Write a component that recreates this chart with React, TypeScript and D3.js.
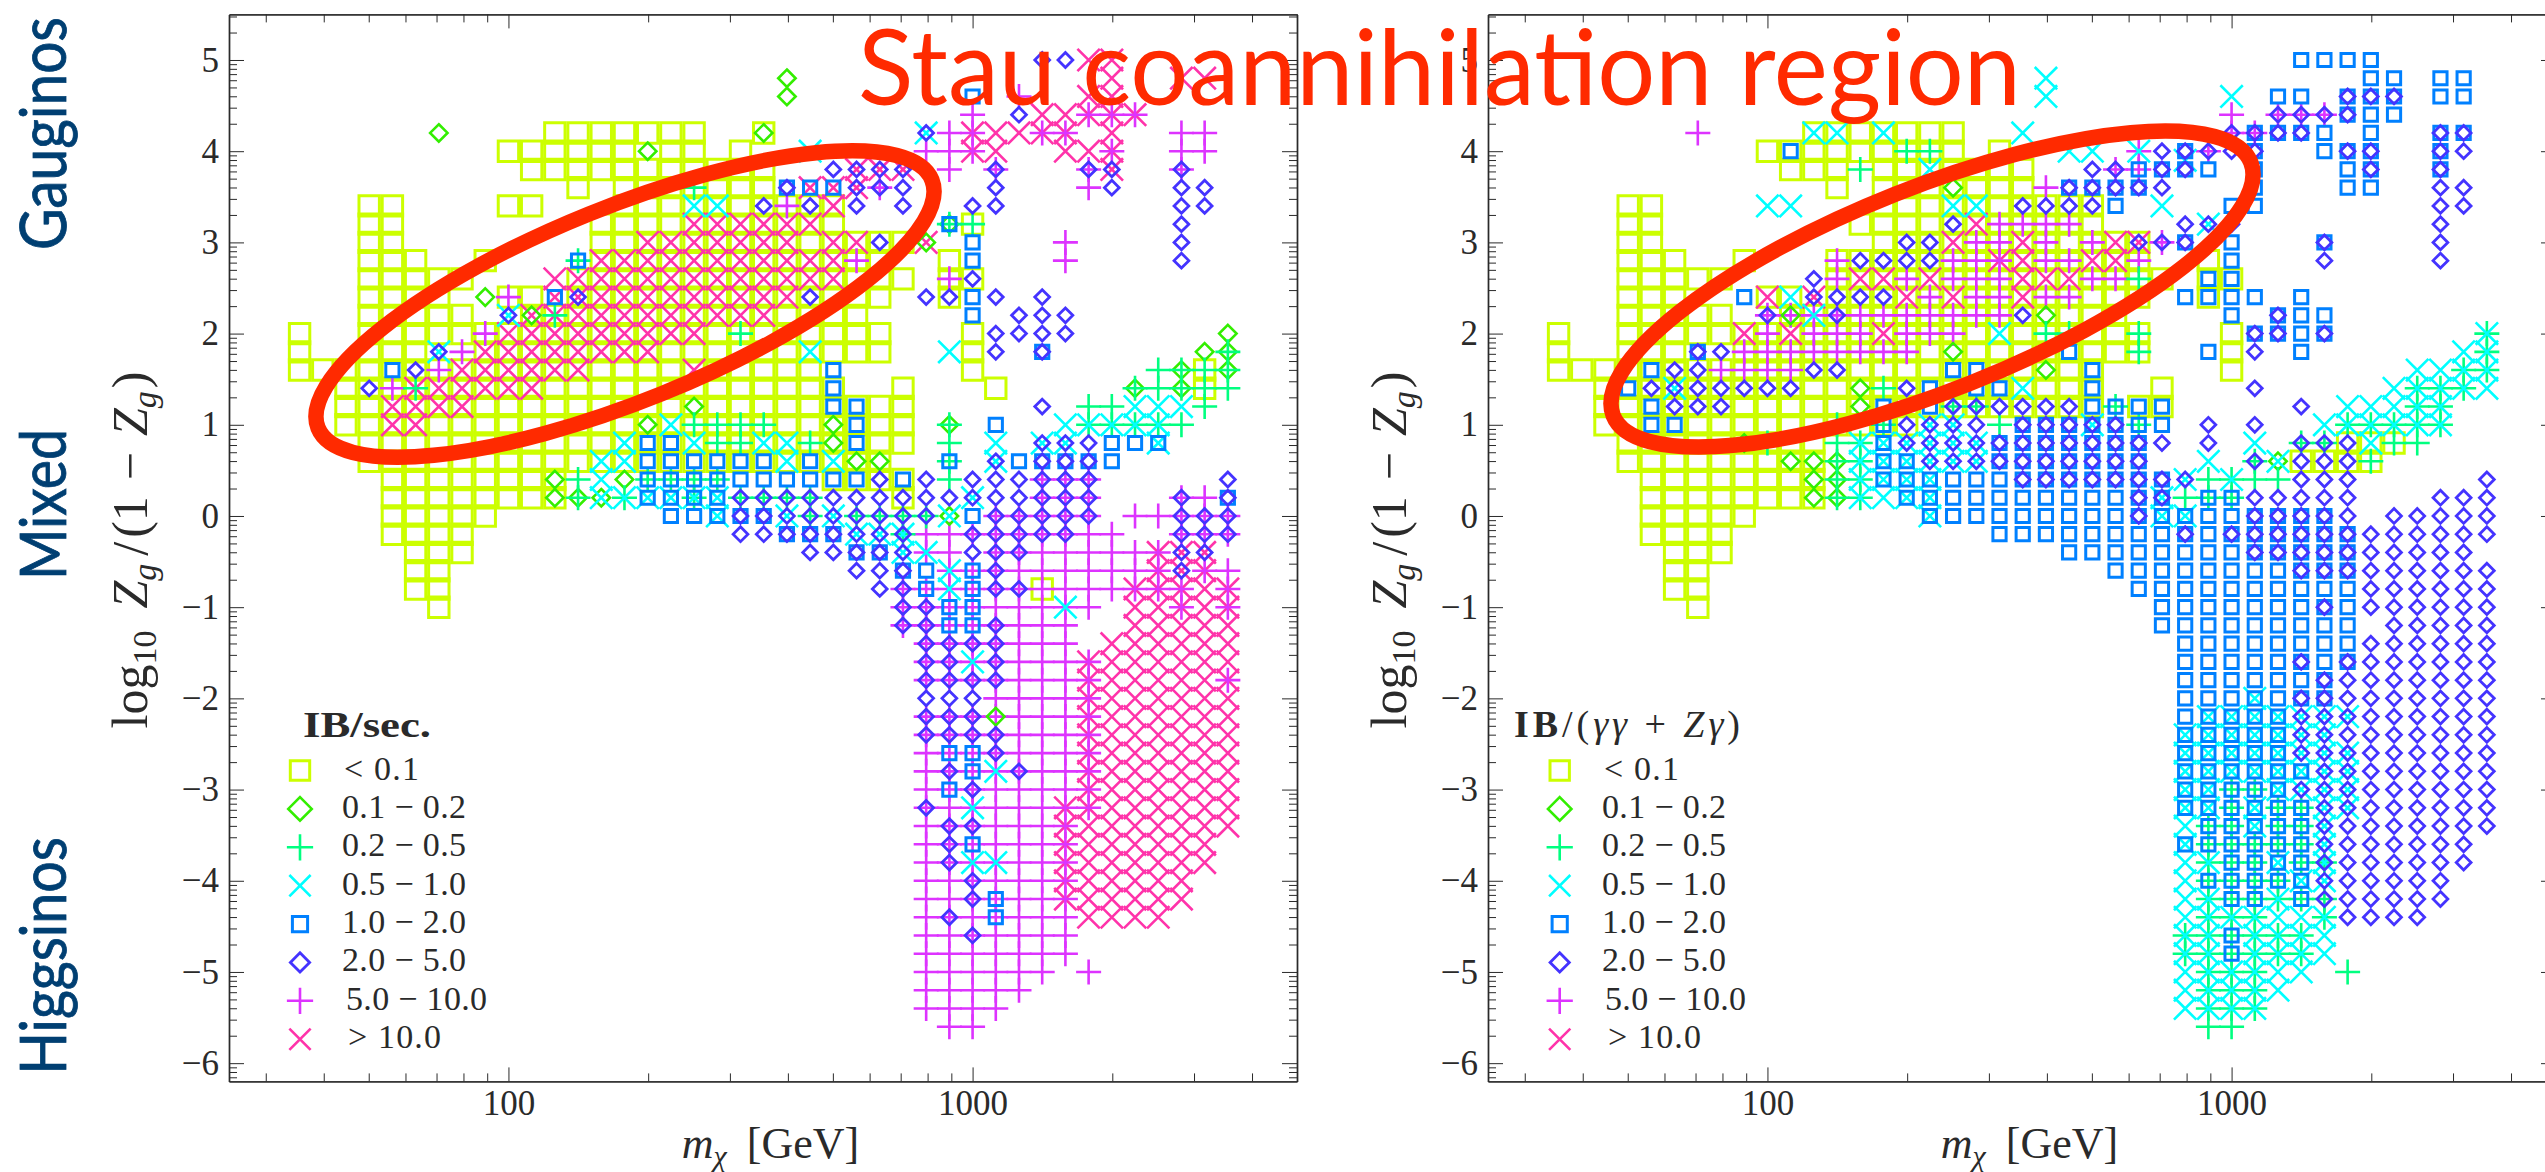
import React, { useEffect, useRef } from 'react'
import * as d3 from 'd3'

// m = 10^(bin / 20) GeV, each row is [log10 Zg/(1-Zg), "mass bins"]
type Row = [number, string]

const bandLabels = ['< 0.1', '0.1 − 0.2', '0.2 − 0.5', '0.5 − 1.0', '1.0 − 2.0', '2.0 − 5.0', '5.0 − 10.0', '> 10.0']
const bandLabelWidths = [75, 124, 124, 124, 124, 124, 141, 93]
const bandColors = ['#ccff00', '#33ee00', '#00ff80', '#00ffff', '#0080ff', '#4433ff', '#dd33ff', '#ff33aa']
const bandShapes = ['square', 'diamond', 'plus', 'times', 'smallSquare', 'smallDiamond', 'plus', 'times']
const bandStrokes = [3, 2.6, 2.6, 2.6, 3, 2.8, 2.6, 2.6]
const legendScales = [0.95, 1.35, 1.05, 0.95, 1.15, 1.3, 1.05, 0.95]
const drawOrder = [0, 7, 6, 1, 2, 3, 4, 5]

const majorMass = [100, 1000]
const minorMass = [30, 40, 50, 60, 70, 80, 90, 200, 300, 400, 500, 600, 700, 800, 900, 2000, 3000, 4000, 5000]
const majorLog = [-6, -5, -4, -3, -2, -1, 0, 1, 2, 3, 4, 5]

const leftYellow: Row[] = [
  [4.2, '42-48 51'], [4.0, '40-45 47 48 50'], [3.8, '41-51'], [3.6, '43 45-51'], [3.4, '34 35 40 41 45-54'],
  [3.2, '34 35 44-54 60'], [3.0, '34 35 44-57'], [2.8, '34-36 39 44-56 59'], [2.6, '34-38 43-57 59 60'],
  [2.4, '34-37 40 41 43-56 59'], [2.2, '34-38 41-55'], [2.0, '31 34-56 60'], [1.8, '31 34-36 39-56 60'],
  [1.6, '31-53 60 70'], [1.4, '33-54 57 61 70'], [1.2, '33-57'], [1.0, '33-57'], [0.8, '34-57'], [0.6, '34-56'],
  [0.4, '35-42 54-57'], [0.2, '35-42 57'], [0, '35-39'], [-0.2, '35-38'], [-0.4, '36-38'], [-0.6, '36 37'],
  [-0.8, '36 37 63'], [-1.0, '37'],
]
const leftGreen: Row[] = [
  [4.8, '52'], [4.6, '52'], [4.2, '37 51'], [4.0, '46'], [3.2, '59'], [3.0, '58'], [2.4, '39'], [2.2, '41'],
  [2.0, '71'], [1.8, '70 71'], [1.6, '69 71'], [1.4, '67 69'], [1.2, '48'], [1.0, '46 54 59'], [0.8, '54'],
  [0.6, '55 56'], [0.4, '42 45'], [0.2, '42 43 44'], [0, '59'], [-2.2, '61'],
]
const leftSpring: Row[] = [
  [3.6, '48'], [3.2, '59 60'], [2.8, '43'], [2.2, '42'], [2.0, '50'], [1.8, '71'], [1.6, '68-71'], [1.4, '36 67-71'],
  [1.2, '65 66 70'], [1.0, '48-51 59 65-69'], [0.8, '49 50 53 59'], [0.6, '59'], [0.4, '43 46-49 59'],
  [0.2, '43 45 48 50-53'], [0, '53 55-58'], [-0.2, '57'],
]
const leftCyan: Row[] = [
  [4.2, '58'], [4.0, '53'], [3.4, '48 49'], [2.2, '40'], [1.8, '37 53 59'], [1.2, '67-69'], [1.0, '47 64-68'],
  [0.8, '45 48 51 52 61 63 64 68'], [0.6, '44 45 52 54 61'], [0.4, '44'], [0.2, '44-49 60'], [0, '49 52 54 59'],
  [-0.2, '55-57'], [-0.4, '57 58'], [-0.6, '59'], [-0.8, '59'], [-1.0, '64'], [-1.6, '60'], [-2.8, '61'],
  [-3.2, '60'], [-3.8, '60 61'],
]
const leftBlue: Row[] = [
  [4.6, '60'], [3.6, '52-54'], [3.2, '59'], [3.0, '60'], [2.8, '43 60'], [2.4, '42 60'], [2.2, '60'], [1.8, '63'],
  [1.6, '35 54'], [1.4, '54'], [1.2, '54 55'], [1.0, '55 61'], [0.8, '46 47 55 66-68'],
  [0.6, '46-51 53 59 62-66'], [0.4, '46-55 57'], [0.2, '46-49 71'], [0, '47-51 60'], [-0.2, '52-54'],
  [-0.4, '55 56'], [-0.6, '57 58 60'], [-0.8, '58 60'], [-1.0, '59 60'], [-1.2, '59 60'], [-2.6, '59 60'],
  [-2.8, '60'], [-3.0, '59'], [-3.6, '60'], [-4.2, '61'], [-4.4, '61'],
]
const leftIndigo: Row[] = [
  [5.0, '63 64'], [4.4, '62'], [4.2, '58'], [3.8, '54-57 61 65 66 69'], [3.6, '52 55-57 61 66 69 70'],
  [3.4, '51 53 55 57 60 61 69 70'], [3.2, '69'], [3.0, '56 69'], [2.8, '69'], [2.6, '60'],
  [2.4, '43 53 58 59 61 63'], [2.2, '40 62 63 64'], [2.0, '61-64'], [1.8, '37 61 63'], [1.6, '36'], [1.4, '34'],
  [1.2, '63'], [0.8, '63 64 65'], [0.6, '61 63 64 65'], [0.4, '56 58 60-65 71'], [0.2, '50-65 69 71'],
  [0, '50-58 61-65 69 70 71'], [-0.2, '50-57 60-64 69 70 71'], [-0.4, '53-57 60 61 62 69 70'],
  [-0.6, '55 56 57 61 69'], [-0.8, '56 57 61 62'], [-1.0, '57 58'], [-1.2, '57 58 61'], [-1.4, '58-61'],
  [-1.6, '58 59 61'], [-1.8, '58-61'], [-2.0, '58 59 60'], [-2.2, '58 59 60'], [-2.4, '58-61'], [-2.6, '61'],
  [-2.8, '59 62'], [-3.0, '60'], [-3.2, '58'], [-3.4, '59 60'], [-3.6, '59'], [-3.8, '59'], [-4.0, '60'],
  [-4.2, '60'], [-4.4, '59'], [-4.6, '60'],
]
const leftMagenta: Row[] = [
  [4.6, '62'], [4.4, '60 65 66 67'], [4.2, '59 60 63 64 69 70'], [4.0, '58 59 60 66 69 70'], [3.8, '59 61 65 69'],
  [3.6, '56 65'], [3.4, '52'], [3.0, '64'], [2.8, '55 64'], [2.6, '59'], [2.4, '40'], [2.0, '39'], [1.8, '38'],
  [1.6, '37'], [1.4, '35'], [0.4, '63 64 65'], [0.2, '63 64 65 69 70'], [0, '61-65 67-71'], [-0.2, '58-66 69 70 71'],
  [-0.4, '58 59 61-68'], [-0.6, '59-68 70 71'], [-0.8, '57-69 71'], [-1.0, '57-65 69 71'], [-1.2, '57-64'],
  [-1.4, '58-64'], [-1.6, '58-65'], [-1.8, '58-65 71'], [-2.0, '61-65'], [-2.2, '58-65'], [-2.4, '58-65'],
  [-2.6, '58-65'], [-2.8, '58-65'], [-3.0, '58-65'], [-3.2, '58-65'], [-3.4, '58-64'], [-3.6, '58-64'],
  [-3.8, '58-64'], [-4.0, '58-64'], [-4.2, '58-64'], [-4.4, '58-64'], [-4.6, '58-64'], [-4.8, '58-64'],
  [-5.0, '58-63 65'], [-5.2, '58-62'], [-5.4, '58-61'], [-5.6, '59 60'],
]
const leftPink: Row[] = [
  [5.0, '65 66'], [4.8, '66 69 70'], [4.6, '65 66'], [4.4, '63-67'], [4.2, '60-64 66'], [4.0, '60 61 64 65 66'],
  [3.8, '55 56 57 66'], [3.6, '53 54 55'], [3.4, '54'], [3.2, '48-53'], [3.0, '46-52 54 55 58'], [2.8, '44-54'],
  [2.6, '42-54'], [2.4, '42-52'], [2.2, '41-51'], [2.0, '40-48'], [1.8, '39-46'], [1.6, '38-43 48'],
  [1.4, '36-41'], [1.2, '35-38'], [1.0, '35 36'], [-0.4, '68 69 70'], [-0.6, '68 69 70'], [-0.8, '67-71'],
  [-1.0, '67-71'], [-1.2, '67-71'], [-1.4, '66-71'], [-1.6, '65-71'], [-1.8, '65-71'], [-2.0, '65-71'],
  [-2.2, '65-71'], [-2.4, '65-71'], [-2.6, '65-71'], [-2.8, '65-71'], [-3.0, '65-71'], [-3.2, '64-71'],
  [-3.4, '64-71'], [-3.6, '64-70'], [-3.8, '64-70'], [-4.0, '64-69'], [-4.2, '64-69'], [-4.4, '65-68'],
]

const rightYellow: Row[] = [
  [4.2, '42-48'], [4.0, '40-48 50'], [3.8, '41-43 45-51'], [3.6, '43 45-51'], [3.4, '34 35 45-54'],
  [3.2, '34 35 44-54'], [3.0, '34 35 45-56'], [2.8, '34 35 36 39 43-56 59'], [2.6, '34-38 43-57 59 60'],
  [2.4, '34-36 40 41 43-56 59'], [2.2, '34-38 41-55'], [2.0, '31 34-56 60'], [1.8, '31 34-36 39-56 60'],
  [1.6, '31-54 60'], [1.4, '33-54 57'], [1.2, '33-54 56 57'], [1.0, '33-46'], [0.8, '34-42 65 66 67'],
  [0.6, '34-42 63 64 65 66'], [0.4, '35-42'], [0.2, '35-42'], [0, '35-39'], [-0.2, '35-38'], [-0.4, '36-38'],
  [-0.6, '36 37'], [-0.8, '36 37'], [-1.0, '37'],
]
const rightGreen: Row[] = [
  [3.6, '48'], [2.2, '41 52'], [1.8, '48'], [1.6, '52'], [1.4, '44'], [1.2, '44'], [0.8, '39'],
  [0.6, '41 42 43 62'], [0.4, '42 43'], [0.2, '42 43'],
]
const rightSpring: Row[] = [
  [4.0, '46 47'], [3.8, '44'], [2.6, '56'], [2.0, '52 53 56 71'], [1.8, '56 71'], [1.6, '70 71'], [1.4, '45 68 69 70'],
  [1.2, '48 49 55 68 69'], [1.0, '43 45 50 56 65-69'], [0.8, '40 43 44 63 64 67 68'], [0.6, '43 44 61 66'],
  [0.4, '43 44 59-62'], [0.2, '43 44 58 59 60'], [-3.0, '60 61'], [-3.2, '60 62 63'], [-3.4, '59 60 62 63'],
  [-3.6, '59-63'], [-3.8, '59 60 61 63 64'], [-4.0, '59-62'], [-4.2, '59-64'], [-4.4, '59 60 61 64'],
  [-4.6, '58-63'], [-4.8, '58-63'], [-5.0, '59 60 61 65'], [-5.2, '59 60 61'], [-5.4, '59 60 61'], [-5.6, '59 60'],
]
const rightCyan: Row[] = [
  [4.8, '52'], [4.6, '52 60'], [4.2, '42 43 45 51'], [4.0, '53 54 56'], [3.9, '58'], [3.8, '47'],
  [3.4, '40 41 48 49 57'], [3.2, '59'], [2.4, '41'], [2.2, '42'], [2.0, '50 71'], [1.8, '70 71'],
  [1.6, '68-71'], [1.4, '36 51 67-71'], [1.2, '65-69'], [1.0, '47 48 54 64-69'], [0.8, '44-49 61 66'],
  [0.6, '44-49 59 62'], [0.4, '44 45 46 47 58 60'], [0.2, '44-47 57'], [0, '47 57 58'], [-2.0, '61'],
  [-2.2, '59-65'], [-2.4, '58-64'], [-2.6, '58-65'], [-2.8, '58-65'], [-3.0, '58 59 62-65'], [-3.2, '58 59 61 64 65'],
  [-3.4, '58 61 64'], [-3.6, '58 64'], [-3.8, '58 59 62 64'], [-4.0, '58 63 64'], [-4.2, '58 59 62'],
  [-4.4, '58-64'], [-4.6, '58 59 61-64'], [-4.8, '58 59 61-64'], [-5.0, '58-63'], [-5.2, '58-62'], [-5.4, '58-61'],
]
const rightBlue: Row[] = [
  [5.0, '63-66'], [4.8, '66 67 69 70'], [4.6, '62 63 65 66 67 69 70'], [4.4, '65 66 67'],
  [4.2, '61-64 66 69 70'], [4.0, '41 58 61 64 65 66 69'], [3.8, '56-59 61 65 66 69'], [3.6, '53-56 61 65 66'],
  [3.4, '55 60 61'], [3.0, '58 60 64'], [2.8, '60'], [2.6, '59 60'], [2.4, '39 58-61 63'], [2.2, '60 62 63 64'],
  [2.0, '61-64'], [1.8, '37 53 59 63'], [1.6, '35 48 49 54'], [1.4, '34 47 49 50 54'], [1.2, '35 45 47 54-57'],
  [1.0, '35 36 45 51-57'], [0.8, '45 50-56'], [0.6, '45 46 50-56'], [0.4, '45-57'], [0.2, '46-57 59 60'],
  [0, '47-64'], [-0.2, '50-65'], [-0.4, '53-65'], [-0.6, '55-65'], [-0.8, '56-65'], [-1.0, '57-65'], [-1.2, '57-65'],
  [-1.4, '58-65'], [-1.6, '58-65'], [-1.8, '58-64'], [-2.0, '58-64'], [-2.2, '58-62'], [-2.4, '58-62'],
  [-2.6, '58-62'], [-2.8, '58-63'], [-3.0, '58-62'], [-3.2, '58-63'], [-3.4, '59-63'], [-3.6, '58-63'],
  [-3.8, '60-63'], [-4.0, '59-63'], [-4.2, '60 61 63'], [-4.6, '60'], [-4.8, '60'],
]
const rightIndigo: Row[] = [
  [4.6, '65 66 67'], [4.4, '62-65'], [4.2, '60-63 69 70'], [4.0, '57-61 65 66 69 70'], [3.8, '54 55 57 58 66 69'],
  [3.6, '53-57 69 70'], [3.4, '51-54 69 70'], [3.2, '48 58 59 60 69'], [3.0, '46 47 56 57 58 64 69'],
  [2.8, '44-47 64 69'], [2.6, '42'], [2.4, '42-45'], [2.2, '40 43 51 62'], [2.0, '61 62 64'], [1.8, '37 38 61'],
  [1.6, '36 37 42 43'], [1.4, '35-41 46 61'], [1.2, '36 37 38 48-53 63'], [1.0, '46-49 51-55 59 61'],
  [0.8, '46-57 59 63 64 65'], [0.6, '47-56 61 63 64 65'], [0.4, '51-58 63 64 65 71'],
  [0.2, '56 57 61-65 69 70 71'], [0, '56 61-65 67-71'], [-0.2, '58 60-71'], [-0.4, '61-70'], [-0.6, '63-71'],
  [-0.8, '66-71'], [-1.0, '64 66-71'], [-1.2, '67-71'], [-1.4, '66-71'], [-1.6, '63 65-71'], [-1.8, '64-71'],
  [-2.0, '63-71'], [-2.2, '63-71'], [-2.4, '63-71'], [-2.6, '63-71'], [-2.8, '64-71'], [-3.0, '63-71'],
  [-3.2, '64-71'], [-3.4, '64-71'], [-3.6, '64-70'], [-3.8, '64-70'], [-4.0, '64-69'], [-4.2, '64-69'], [-4.4, '65-68'],
]
const rightMagenta: Row[] = [
  [4.4, '60 62 63 64'], [4.2, '37 60 61'], [4.0, '56 59'], [3.8, '55 56'], [3.6, '52'],
  [3.2, '50-53'], [3.0, '49 50 52 54 57'], [2.8, '43 48 49 50 52 53 56'], [2.6, '43 46 48 49 50 54 55'],
  [2.4, '47 49 50 52 53'], [2.2, '40-50'], [2.0, '40 42 43 44 46 47 48'], [1.8, '39-46'], [1.6, '38-41'],
]
const rightPink: Row[] = [
  [3.2, '49'], [3.0, '48 51 55 56'], [2.8, '50 51 54 55'], [2.6, '44 45 47 51 52 53'], [2.4, '40 42 46 48 51'],
  [2.0, '39 41 45'],
]

const leftSeries = [leftYellow, leftGreen, leftSpring, leftCyan, leftBlue, leftIndigo, leftMagenta, leftPink]
const rightSeries = [rightYellow, rightGreen, rightSpring, rightCyan, rightBlue, rightIndigo, rightMagenta, rightPink]

const massOfBin = (bin: number) => Math.pow(10, bin / 20)

const parseBins = (s: string) =>
  s.split(' ').flatMap((tok) => {
    const [a, b] = tok.split('-').map(Number)
    return b === undefined ? [a] : d3.range(a, b + 1)
  })

const expandRows = (rows: Row[]) =>
  rows.flatMap(([logz, bins]) => parseBins(bins).map((bin) => ({ mass: massOfBin(bin), logz })))

function markerPath(shape: string) {
  const p = d3.path()
  const poly = (pts: number[][]) => {
    pts.forEach(([x, y], i) => (i ? p.lineTo(x, y) : p.moveTo(x, y)))
    p.closePath()
  }
  if (shape === 'square') p.rect(-10.2, -10.2, 20.4, 20.4)
  if (shape === 'smallSquare') p.rect(-6.6, -6.6, 13.2, 13.2)
  if (shape === 'diamond') poly([[0, -8.7], [8.7, 0], [0, 8.7], [-8.7, 0]])
  if (shape === 'smallDiamond') poly([[0, -7.4], [7.4, 0], [0, 7.4], [-7.4, 0]])
  if (shape === 'plus') {
    p.moveTo(-12.5, 0); p.lineTo(12.5, 0)
    p.moveTo(0, -12.5); p.lineTo(0, 12.5)
  }
  if (shape === 'times') {
    p.moveTo(-11.2, -11.2); p.lineTo(11.2, 11.2)
    p.moveTo(-11.2, 11.2); p.lineTo(11.2, -11.2)
  }
  return p.toString()
}

const SERIF = '"Liberation Serif", serif'
const INK = '#2a2a2a'

function drawPanel(svg: any, left: number, right: number, series: Row[][]) {
  const top = 14.4
  const bottom = 1081.4
  const x = d3.scaleLog().domain([25, 5000]).range([left, right])
  const y = d3.scaleLinear().domain([-6.2, 5.5]).range([bottom, top])

  const g = svg.append('g')

  drawOrder.forEach((i) => {
    g.append('g')
      .selectAll('path')
      .data(expandRows(series[i]))
      .join('path')
      .attr('d', markerPath(bandShapes[i]))
      .attr('transform', (d: any) => `translate(${x(d.mass)},${y(d.logz)})`)
      .attr('fill', 'none')
      .attr('stroke', bandColors[i])
      .attr('stroke-width', bandStrokes[i])
  })

  const minorLog = d3.range(-7, 6).flatMap((n) => d3.range(2, 10).map((k) => n + Math.log10(k)))
    .filter((v) => v > -6.2 && v < 5.5)

  const styleAxis = (sel: any) => {
    sel.selectAll('.tick line').attr('stroke', INK).attr('stroke-width', 1)
    sel.selectAll('path.domain').attr('stroke', INK).attr('stroke-width', 1.4)
    sel.selectAll('text').attr('font-family', SERIF).attr('font-size', 35).attr('fill', INK)
  }
  const addAxis = (axis: any, tx: number, ty: number) =>
    g.append('g').attr('transform', `translate(${tx},${ty})`).call(axis).call(styleAxis)

  const massFmt = (d: any) => String(d)
  const logFmt = (d: any) => (d < 0 ? '−' + -d : String(d))

  addAxis(d3.axisBottom(x).tickValues(majorMass).tickFormat(massFmt).tickSize(-14).tickSizeOuter(0).tickPadding(9), 0, bottom)
  addAxis(d3.axisBottom(x).tickValues(minorMass).tickFormat(() => '').tickSize(-8).tickSizeOuter(0), 0, bottom)
  addAxis(d3.axisTop(x).tickValues(majorMass).tickFormat(() => '').tickSize(-14).tickSizeOuter(0), 0, top)
  addAxis(d3.axisTop(x).tickValues(minorMass).tickFormat(() => '').tickSize(-8).tickSizeOuter(0), 0, top)
  addAxis(d3.axisLeft(y).tickValues(majorLog).tickFormat(logFmt).tickSize(-15).tickSizeOuter(0).tickPadding(10), left, 0)
  addAxis(d3.axisLeft(y).tickValues(minorLog).tickFormat(() => '').tickSize(-8).tickSizeOuter(0), left, 0)
  addAxis(d3.axisRight(y).tickValues(majorLog).tickFormat(() => '').tickSize(-15).tickSizeOuter(0), right, 0)
  addAxis(d3.axisRight(y).tickValues(minorLog).tickFormat(() => '').tickSize(-8).tickSizeOuter(0), right, 0)

  // y label
  const yLabel = g.append('text')
    .attr('transform', `translate(${left - 82},550) rotate(-90)`)
    .attr('text-anchor', 'middle')
    .attr('font-family', SERIF)
    .attr('font-size', 50)
    .attr('fill', INK)
  yLabel.append('tspan').text('log')
  yLabel.append('tspan').attr('font-size', 34).attr('dy', 9).text('10')
  yLabel.append('tspan').attr('dy', -9).attr('dx', 22).attr('font-style', 'italic').text('Z')
  yLabel.append('tspan').attr('font-size', 34).attr('dy', 9).attr('font-style', 'italic').text('g')
  yLabel.append('tspan').attr('dy', -9).attr('dx', 8).text('/')
  yLabel.append('tspan').attr('dx', 4).text('(1')
  yLabel.append('tspan').attr('dx', 16).text('−')
  yLabel.append('tspan').attr('dx', 16).attr('font-style', 'italic').text('Z')
  yLabel.append('tspan').attr('font-size', 34).attr('dy', 9).attr('font-style', 'italic').text('g')
  yLabel.append('tspan').attr('dy', -9).attr('dx', 3).text(')')

  // x label
  const xLabel = g.append('text')
    .attr('x', x(100) + 262)
    .attr('y', 1158)
    .attr('text-anchor', 'middle')
    .attr('font-family', SERIF)
    .attr('font-size', 44)
    .attr('fill', INK)
  xLabel.append('tspan').attr('font-style', 'italic').text('m')
  xLabel.append('tspan').attr('font-size', 30).attr('dy', 8).attr('font-style', 'italic').text('χ')
  xLabel.append('tspan').attr('dy', -8).attr('dx', 20).text('[GeV]')
}

function drawLegend(svg: any, markerX: number, textStarts: number[]) {
  const legendY = d3.scaleLinear().domain([0, 7]).range([770.5, 1039.2])
  const g = svg.append('g')
  bandLabels.forEach((label, i) => {
    g.append('path')
      .attr('d', markerPath(bandShapes[i]))
      .attr('transform', `translate(${markerX},${legendY(i)}) scale(${legendScales[i]})`)
      .attr('fill', 'none')
      .attr('stroke', bandColors[i])
      .attr('stroke-width', bandStrokes[i])
      .attr('vector-effect', 'non-scaling-stroke')
    g.append('text')
      .attr('x', textStarts[i])
      .attr('y', legendY(i) + 9)
      .attr('font-family', SERIF)
      .attr('font-size', 34)
      .attr('fill', INK)
      .attr('textLength', bandLabelWidths[i])
      .attr('lengthAdjust', 'spacing')
      .text(label)
  })
}

function App() {
  const ref = useRef<SVGSVGElement>(null)

  useEffect(() => {
    const svg = d3.select(ref.current)
    svg.selectAll('*').remove()

    drawPanel(svg, 229, 1297, leftSeries)
    drawPanel(svg, 1488, 2556, rightSeries)

    drawLegend(svg, 300, [344, 342, 342, 342, 342, 342, 346, 348])
    drawLegend(svg, 1559.7, [1604, 1602, 1602, 1602, 1602, 1602, 1605, 1608])

    // legend titles
    svg.append('text').attr('x', 303).attr('y', 737).attr('font-family', SERIF).attr('font-size', 36)
      .attr('font-weight', 'bold').attr('fill', INK)
      .attr('textLength', 128).attr('lengthAdjust', 'spacingAndGlyphs').text('IB/sec.')
    const rightTitle = svg.append('text').attr('x', 1514).attr('y', 737).attr('font-family', SERIF)
      .attr('font-size', 38).attr('fill', INK)
      .attr('textLength', 226).attr('lengthAdjust', 'spacing')
    rightTitle.append('tspan').attr('font-weight', 'bold').text('IB')
    rightTitle.append('tspan').text('/(')
    rightTitle.append('tspan').attr('font-style', 'italic').text('γγ')
    rightTitle.append('tspan').text(' + ')
    rightTitle.append('tspan').attr('font-style', 'italic').text('Zγ')
    rightTitle.append('tspan').text(')')

    // stau coannihilation ellipses
    const ellipses = [
      { cx: 625, cy: 304, a: 331, b: 97, angle: -22 },
      { cx: 1932, cy: 289, a: 343, b: 101.7, angle: -21.65 },
    ]
    svg.selectAll('ellipse').data(ellipses).join('ellipse')
      .attr('cx', (d) => d.cx).attr('cy', (d) => d.cy).attr('rx', (d) => d.a).attr('ry', (d) => d.b)
      .attr('transform', (d) => `rotate(${d.angle} ${d.cx} ${d.cy})`)
      .attr('fill', 'none').attr('stroke', '#ff2a00').attr('stroke-width', 15.5)

    svg.append('text').attr('x', 858).attr('y', 105).attr('font-family', 'Lato, sans-serif')
      .attr('font-size', 104).attr('fill', '#ff2a00')
      .attr('textLength', 1163).attr('lengthAdjust', 'spacingAndGlyphs')
      .text('Stau coannihilation region')

    // side labels, squeezed to the span they take in the picture
    const sideLabels = [
      { label: 'Gauginos', from: 250, to: 17 },
      { label: 'Mixed', from: 580, to: 429 },
      { label: 'Higgsinos', from: 1074.5, to: 837 },
    ]
    sideLabels.forEach((d) => {
      const t = svg.append('text')
        .attr('font-family', 'Lato, sans-serif')
        .attr('font-size', 64)
        .attr('fill', '#003f72')
        .attr('stroke', '#003f72')
        .attr('stroke-width', 0.8)
        .text(d.label)
      const natural = (t.node() as SVGTextElement).getComputedTextLength()
      t.attr('transform', `translate(66,${d.from}) rotate(-90) scale(${(d.from - d.to) / natural},1)`)
    })
  }, [])

  return (
    <svg
      ref={ref}
      width={2545}
      height={1172}
      style={{ position: 'absolute', left: 0, top: 0, display: 'block', background: '#fff' }}
    />
  )
}

export default App
